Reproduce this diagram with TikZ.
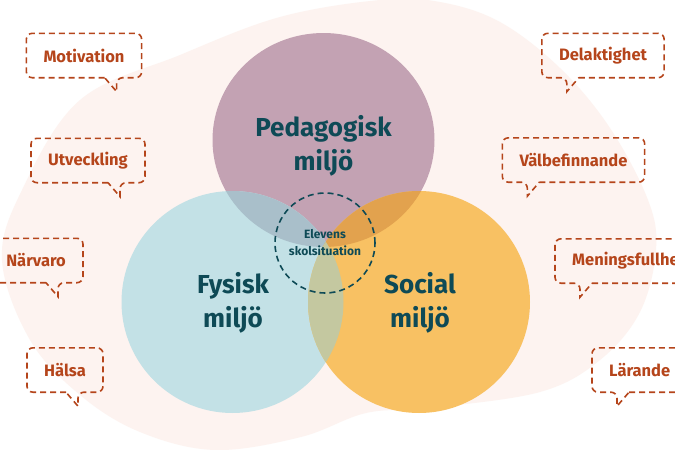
\documentclass[tikz,border=0pt]{standalone}
\usepackage{fontspec}
\setmainfont{Fira Sans}
\usetikzlibrary{calc}

\definecolor{blobcol}{HTML}{FDF3F0}
\definecolor{pedcol}{HTML}{C3A2B3}
\definecolor{fyscol}{HTML}{C3E1E6}
\definecolor{soccol}{HTML}{F8C163}
\definecolor{pedfys}{HTML}{A9BFCA}
\definecolor{pedsoc}{HTML}{E2A24E}
\definecolor{fyssoc}{HTML}{C4C8A0}
\definecolor{tealcol}{HTML}{0E4A56}
\definecolor{bubblecol}{HTML}{B5451B}

\tikzset{
  bubble/.style={draw=bubblecol, line width=1.6pt, dash pattern=on 6pt off 4pt},
  bubbletext/.style={text=bubblecol, font=\fontsize{16.5}{19}\selectfont\bfseries,
    inner xsep=17pt, minimum height=44pt},
  bigtext/.style={text=tealcol, font=\fontsize{26}{34}\selectfont\bfseries, align=center},
  centrecircle/.style={circle, draw=tealcol, line width=1.6pt, dash pattern=on 6pt off 4pt,
    minimum size=100pt, inner sep=0pt, text=tealcol, align=center,
    font=\fontsize{12}{17}\selectfont\bfseries},
}

% bubble with its tail on the right / on the left
\newcommand\talkleft[1]{\draw[bubble] ([xshift=-37pt]#1.south east) [rounded corners=6pt]
  -- (#1.south west) -- (#1.north west) -- (#1.north east) -- (#1.south east)
  -- ([xshift=-25pt]#1.south east) [sharp corners]
  -- ([xshift=-25pt,yshift=-14pt]#1.south east) -- cycle;}
\newcommand\talkright[1]{\draw[bubble] ([xshift=37pt]#1.south west) [rounded corners=6pt]
  -- (#1.south east) -- (#1.north east) -- (#1.north west) -- (#1.south west)
  -- ([xshift=25pt]#1.south west) [sharp corners]
  -- ([xshift=25pt,yshift=-14pt]#1.south west) -- cycle;}

\begin{document}
\begin{tikzpicture}[x=1pt,y=-1pt]
  \clip (0,0) rectangle (675,450);
  \fill[white] (0,0) rectangle (675,450);

  % background blob
  \fill[blobcol] plot[smooth cycle, tension=0.6] coordinates {
    (2,260) (22,190) (80,100) (180,55) (280,17) (380,0) (440,2) (500,22)
    (560,68) (610,128) (648,200) (656,250) (640,312) (600,360) (540,392)
    (430,408) (366,413) (301,437) (215,450) (140,432) (80,395) (30,340)};

  % the three circles
  \fill[pedcol] (323.5,140) ellipse (111 and 107);
  \fill[fyscol] (232.5,302) circle (111);
  \fill[soccol] (419,302) circle (111);
  \begin{scope}
    \clip (323.5,140) ellipse (111 and 107);
    \fill[pedfys] (232.5,302) circle (111);
    \fill[pedsoc] (419,302) circle (111);
  \end{scope}
  \begin{scope}
    \clip (232.5,302) circle (111);
    \fill[fyssoc] (419,302) circle (111);
  \end{scope}

  \node[bigtext] (ped) at (323.5,146) {Pedagogisk\\miljö};
  \node[bigtext] (fys) at (233,303) {Fysisk\\miljö};
  \node[bigtext] (soc) at (420,303) {Social\\miljö};
  \node[centrecircle] (elev) at (325,243) {Elevens\\skolsituation};

  % speech bubbles
  \node[bubbletext] (motivation) at (84,55.5) {Motivation};
  \node[bubbletext] (utveckling) at (88,160.5) {Utveckling};
  \node[bubbletext, anchor=east] (narvaro) at (83,260.5) {Närvaro};
  \node[bubbletext] (halsa) at (65,370) {Hälsa};
  \talkleft{motivation}
  \talkleft{utveckling}
  \talkleft{narvaro}
  \talkleft{halsa}

  \node[bubbletext] (delaktighet) at (603,55.5) {Delaktighet};
  \node[bubbletext] (valbefinnande) at (573.5,160) {Välbefinnande};
  \node[bubbletext, anchor=west] (meningsfullhet) at (555,261) {Meningsfullhet};
  \node[bubbletext, anchor=west] (larande) at (592,370) {Lärande};
  \talkright{delaktighet}
  \talkright{valbefinnande}
  \talkright{meningsfullhet}
  \talkright{larande}
\end{tikzpicture}
\end{document}
